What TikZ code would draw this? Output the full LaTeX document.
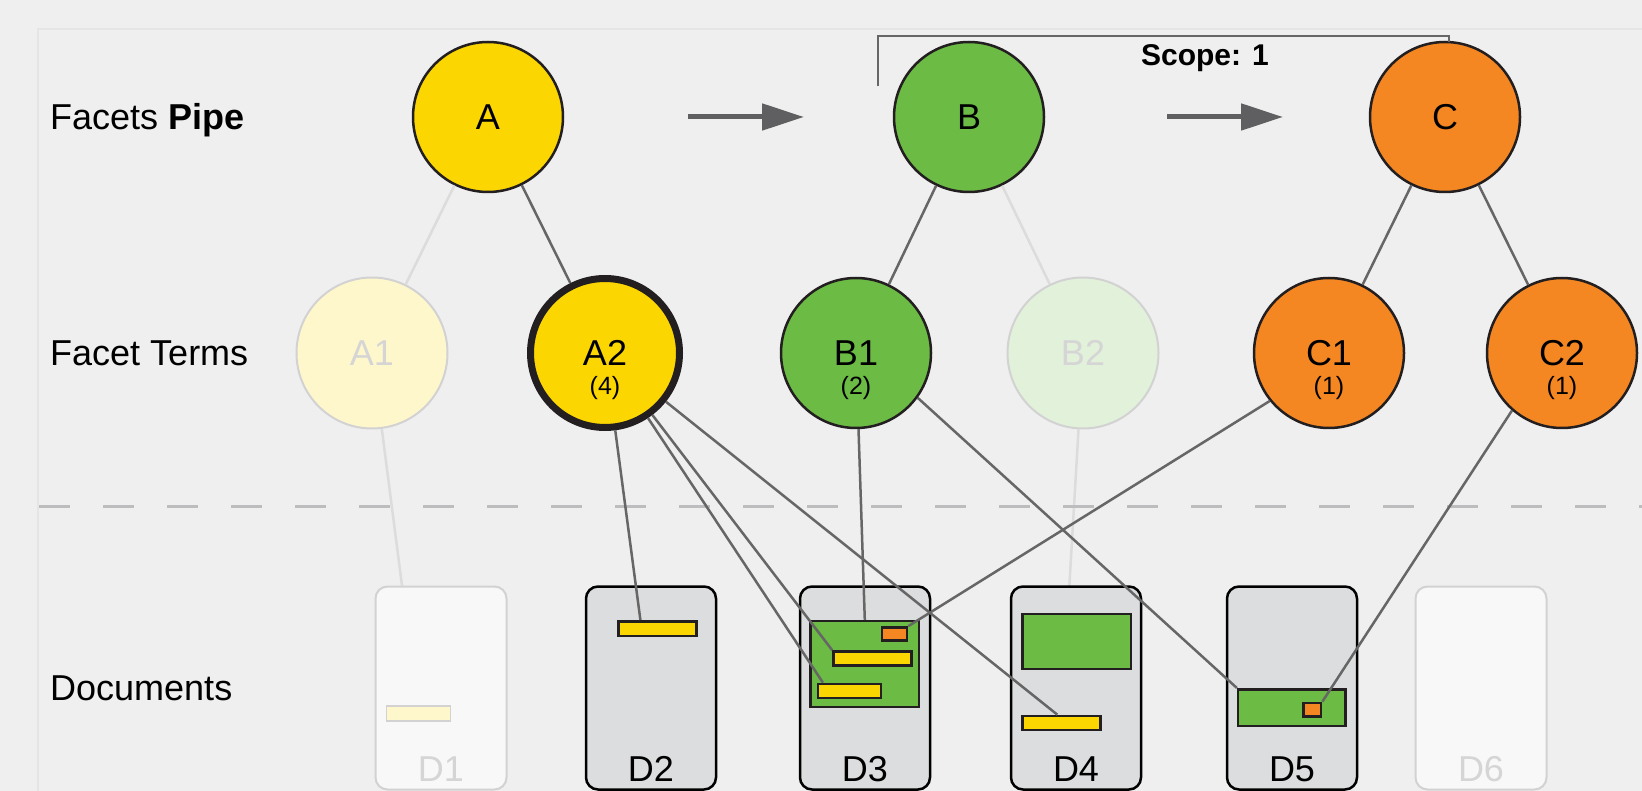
\documentclass[tikz,border=0pt]{standalone}
\usepackage{fontspec}
\setmainfont{Liberation Sans}
\usetikzlibrary{arrows.meta,backgrounds}

\definecolor{bgcol}{HTML}{EFEFEF}
\definecolor{panelcol}{HTML}{E4E5E7}
\definecolor{ink}{HTML}{231F20}
\definecolor{yel}{HTML}{FCD600}
\definecolor{grn}{HTML}{6CBB45}
\definecolor{org}{HTML}{F58723}
\definecolor{yelpale}{HTML}{FFF7CC}
\definecolor{grnpale}{HTML}{E2F1DA}
\definecolor{fadeline}{HTML}{D2D2D2}
\definecolor{fadetext}{HTML}{D5D5D5}
\definecolor{docfill}{HTML}{DCDDDF}
\definecolor{docpale}{HTML}{F8F8F8}
\definecolor{linkcol}{HTML}{666666}
\definecolor{faintcol}{HTML}{DCDCDC}
\definecolor{arrowcol}{HTML}{5F5F61}
\definecolor{dashcol}{HTML}{BDBDC0}

\tikzset{
  facet/.style={circle, draw=ink, line width=2.5pt, minimum size=150pt},
  fadedfacet/.style={circle, draw=fadeline, line width=2pt, minimum size=151pt, text=fadetext},
  count/.style={font=\fontsize{25}{30}\selectfont, anchor=base},
  doc/.style={draw=black, fill=docfill, line width=2.5pt, rounded corners=12pt,
    minimum width=130pt, minimum height=203pt},
  fadeddoc/.style={draw=fadeline, fill=docpale, line width=2pt, rounded corners=12pt,
    minimum width=131pt, minimum height=203pt},
  hit/.style={draw=ink, line width=2.5pt},
  link/.style={draw=linkcol, line width=2.5pt},
  faintlink/.style={draw=faintcol, line width=2.5pt},
  flow/.style={draw=arrowcol, line width=5pt, -{Triangle[length=42pt,width=26pt]}},
}

\begin{document}
\begin{tikzpicture}[x=1pt, y=-1pt,
    every node/.style={inner sep=0pt, font=\fontsize{36}{43}\selectfont}]
  \useasboundingbox (0,0) rectangle (1642,791);

  % row labels
  \node[anchor=base west] (lpipe) at (50,130) {Facets \textbf{Pipe}};
  \node[anchor=base west] (lterms) at (50,366) {Facet Terms};
  \node[anchor=base west] (ldocs) at (50,700) {Documents};

  \draw[dashcol, line width=3pt, dash pattern=on 31pt off 33pt] (39,506) -- (1642,506);

  % facets pipe
  \foreach \n/\x/\col in {A/488/yel, B/969/grn, C/1445/org} {
    \node[facet, fill=\col] (\n) at (\x,117) {\n};
  }
  \draw[flow] ([xshift=200pt]A.center) -- ([xshift=-165pt]B.center);
  \draw[flow] ([xshift=198pt]B.center) -- ([xshift=-162pt]C.center);

  % scope bracket
  \coordinate (sl) at (878,86);
  \coordinate (sr) at (1449,42);
  \draw[linkcol, line width=2pt] (sl) -- (sl |- 0,36) -- (sr |- 0,36) -- (sr);
  \node[anchor=base, font=\bfseries\fontsize{30}{36}\selectfont] (scope) at (1205,66) {Scope: 1};

  % facet terms
  \node[fadedfacet, fill=yelpale] (A1) at (372,353) {A1};
  \node[fadedfacet, fill=grnpale] (B2) at (1083,353) {B2};
  \node[circle, draw=ink, line width=7pt, minimum size=149pt, fill=yel] (A2) at (605,353) {A2};
  \node[count] (cA2) at ([yshift=-42pt]A2.center) {(4)};
  \foreach \n/\x/\col/\k in {B1/856/grn/2, C1/1329/org/1, C2/1562/org/1} {
    \node[facet, fill=\col] (\n) at (\x,353) {\n};
    \node[count] (c\n) at ([yshift=-42pt]\n.center) {(\k)};
  }

  \draw[faintlink] (A) -- (A1);
  \draw[link] (A) -- (A2);
  \draw[link] (B) -- (B1);
  \draw[faintlink] (B) -- (B2);
  \draw[link] (C) -- (C1);
  \draw[link] (C) -- (C2);

  % documents
  \node[fadeddoc] (d1) at (441,688) {};
  \node[fadeddoc] (d6) at (1481,688) {};
  \foreach \i/\x in {2/651, 3/865, 4/1076, 5/1292} {
    \node[doc] (d\i) at (\x,688) {};
    \node[anchor=base] (dl\i) at ([yshift=9.5pt]d\i.south) {D\i};
  }
  \node[anchor=base, text=fadetext] (dl1) at ([yshift=9.5pt]d1.south) {D1};
  \node[anchor=base, text=fadetext] (dl6) at ([yshift=9.5pt]d6.south) {D6};

  \node[draw=fadeline, line width=1.5pt, fill=yelpale, minimum width=64pt, minimum height=15pt] (d1y) at (418.5,713.5) {};
  \node[hit, fill=yel, minimum width=78pt, minimum height=14.5pt] (d2y) at (657.4,628.5) {};
  \node[hit, fill=grn, minimum width=108.5pt, minimum height=86pt] (d3g) at (864.8,664.2) {};
  \node[hit, fill=org, minimum width=25pt, minimum height=13pt] (d3o) at (894.5,633.9) {};
  \node[hit, fill=yel, minimum width=78pt, minimum height=14pt] (d3y1) at (872.5,658.5) {};
  \node[hit, fill=yel, minimum width=63pt, minimum height=14pt] (d3y2) at (849.7,690.9) {};
  \node[hit, fill=grn, minimum width=108.5pt, minimum height=55pt] (d4g) at (1076.5,641.4) {};
  \node[hit, fill=yel, minimum width=78pt, minimum height=14pt] (d4y) at (1061.3,722.9) {};
  \node[hit, fill=grn, minimum width=107.5pt, minimum height=36.5pt] (d5g) at (1291.9,707.5) {};
  \node[hit, fill=org, minimum width=17.5pt, minimum height=13.5pt] (d5o) at (1312.3,709.7) {};

  % term -> document hits
  \draw[link] (A2) -- ([xshift=-17pt]d2y.north);
  \draw[link] (A2) -- (d3y1.north west);
  \draw[link] (A2) -- ([xshift=6pt]d3y2.north west);
  \draw[link] (A2) -- ([xshift=-4pt]d4y.north);
  \draw[link] (B1) -- (d3g.north);
  \draw[link] (B1.-36) -- (d5g.north west);
  \draw[link] (C1.219) -- (d3o.north east);
  \draw[link] (C2.229) -- (d5o.north east);

  \begin{pgfonlayer}{background}
    \fill[bgcol] (0,0) rectangle (1642,791);
    \draw[panelcol, line width=1.5pt] (38,791) -- (38,29) -- (1642,29);
    \draw[faintlink] (A1) -- (d1y);
    \draw[faintlink] (B2) -- (d4y);
  \end{pgfonlayer}
\end{tikzpicture}
\end{document}
